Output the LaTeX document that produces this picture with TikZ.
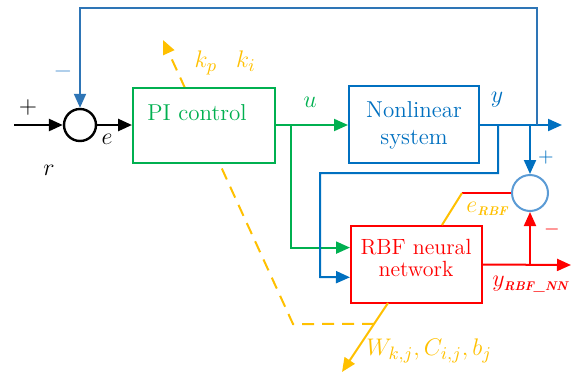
\documentclass[tikz,border=0pt]{standalone}
\usetikzlibrary{arrows.meta,calc}
\definecolor{cgreen}{HTML}{00B050}
\definecolor{cblue}{HTML}{0070C0}
\definecolor{cfb}{HTML}{2E75B6}
\definecolor{clblue}{HTML}{5B9BD5}
\definecolor{cred}{HTML}{FF0000}
\definecolor{corange}{HTML}{FFC000}
\newcommand{\subtxt}[1]{\mbox{\fontsize{6.3}{7}\selectfont\bfseries\itshape #1}}
\tikzset{
  tip/.style={-{Triangle[length=7pt,width=6pt]}},
  wire/.style={line width=1pt},
  blk/.style={draw,line width=1pt,fill=white,inner sep=0pt},
  sumc/.style={circle,draw,line width=1pt,inner sep=0pt,fill=white},
  txt/.style={font=\rmfamily\fontsize{11.5}{13.5}\selectfont,inner sep=0pt,align=center},
  lab/.style={font=\fontsize{13}{15}\selectfont,inner sep=0pt},
}
\begin{document}
\begin{tikzpicture}[x=0.5pt,y=-0.5pt]
\useasboundingbox (0,0) rectangle (573,376);
% nodes
\node[sumc,minimum size=16pt,line width=1.2pt] (sum1) at (80,125) {};
\node[sumc,minimum size=18pt,draw=clblue] (sum2) at (530,193) {};
% coordinates
\coordinate (in) at (14,125);
\coordinate (out) at (562,125);
\coordinate (rout) at (571,265);
\coordinate (wtip) at (342,372);
\coordinate (ptip) at (163,40);
\coordinate (dcorner) at (293,324);
\coordinate (ecorner) at (462,193);
% dashed orange (behind PI box)
\coordinate (rbfb) at (388,303);
\draw[wire,corange,dash pattern=on 6pt off 4pt,tip] ($(rbfb)!0.304!(wtip)$) -- (dcorner) -- (ptip);
% boxes
\node[blk,draw=cgreen,minimum width=71pt,minimum height=37.5pt] (pi) at (204,125.5) {};
\node[txt,text=cgreen] (pitxt) at (197,113) {PI control};
\node[blk,draw=cblue,minimum width=65pt,minimum height=38.5pt] (nl) at (414,124.5) {};
\node[txt,text=cblue] (nltxt) at (414,125) {Nonlinear\\system};
\node[blk,draw=cred,minimum width=65.5pt,minimum height=38.5pt] (rbf) at (416.5,264.5) {};
\node[txt,text=cred,font=\rmfamily\fontsize{11}{11}\selectfont] (rbftxt) at (416,258) {RBF neural\\network};
% connectors
\draw[wire,line width=1.3pt,tip] (in) -- (sum1.west);
\draw[wire,line width=1.3pt,tip] (sum1.east) -- (pi.west |- sum1.east);
\draw[wire,cgreen,tip] (pi.east |- 0,125) coordinate (pe) -- (nl.west |- pe);
\coordinate (g1) at (291,125);
\draw[wire,cgreen,tip] (g1) |- ($(rbf.north west)!0.286!(rbf.south west)$);
\draw[wire,cblue,tip] (nl.east |- 0,125) -- (out);
\coordinate (fb) at (537,125);
\draw[wire,cfb,tip] (fb) -- (537,8) -| (sum1.north);
\coordinate (b2) at (498,125);
\draw[wire,cblue,tip] (b2) -- (498,173) -| (320,277) -- ($(rbf.north west)!0.662!(rbf.south west)$);
\coordinate (b3) at (530,125);
\draw[wire,cblue,tip] (b3) -- (sum2.north);
\draw[wire,cred,tip] (rbf.east) -- (rout);
\coordinate (r1) at (530,264.5);
\draw[wire,cred,tip] (r1) -- (sum2.south);
\draw[wire,cred] (sum2.west) -- (ecorner);
\draw[wire,corange] (ecorner) -- ($(rbf.north)+(25.5,0)$);
\draw[wire,corange,tip] (rbfb) -- (wtip);
% labels
\node[lab] (lplus1) at (28,107) {$+$};
\node[lab] (lr) at (49,170) {$r$};
\node[lab] (le) at (107,139) {$e$};
\node[lab,text=clblue] (lminus1) at (63,71) {$-$};
\node[lab,text=cgreen] (lu) at (310,102) {$u$};
\node[lab,text=cblue] (ly) at (497,100) {$y$};
\node[lab,text=corange] (lkp) at (206,63) {$k_p$};
\node[lab,text=corange] (lki) at (246,61) {$k_i$};
\node[lab,text=cblue,font=\fontsize{10}{12}\selectfont] (lplus2) at (546,157) {$+$};
\node[lab,text=cred,font=\fontsize{10}{12}\selectfont] (lminus2) at (552,229) {$-$};
\node[lab,text=corange,anchor=west] (lerbf) at (466,209) {$e_{\subtxt{RBF}}$};
\node[lab,text=cred,anchor=west] (lyrbf) at (492,284) {$y_{\subtxt{RBF\_NN}}$};
\node[lab,text=corange,anchor=west] (lw) at (366,351) {$W_{k,j},C_{i,j},b_j$};
\end{tikzpicture}
\end{document}
